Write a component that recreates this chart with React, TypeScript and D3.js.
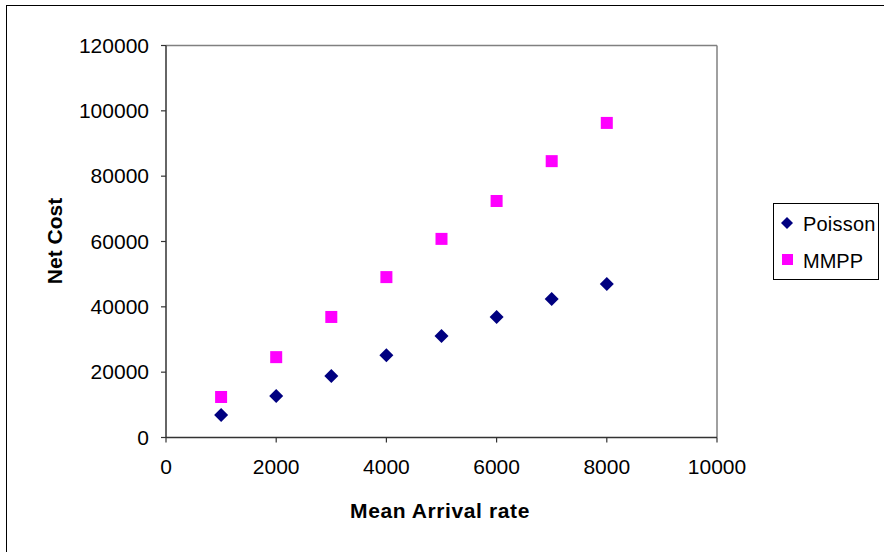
import React from "react";
import * as d3 from "d3";

const xValues = [1000, 2000, 3000, 4000, 5000, 6000, 7000, 8000];
const poisson = [6900, 12700, 18800, 25200, 31100, 36900, 42400, 47000];
const mmpp = [12400, 24600, 36900, 49100, 60800, 72400, 84600, 96300];
const xTicks = [0, 2000, 4000, 6000, 8000, 10000];
const yTicks = [0, 20000, 40000, 60000, 80000, 100000, 120000];
const seriesNames = ["Poisson", "MMPP"];

export default function App() {
  const W = 884, H = 552;
  const x = d3.scaleLinear().domain([0, 10000]).range([166, 717]);
  const y = d3.scaleLinear().domain([0, 120000]).range([437.5, 45.5]);
  const font = "'Liberation Sans', Arial, sans-serif";
  const dpath = (cx: number, cy: number, r: number) =>
    `M${cx},${cy - r}L${cx + r},${cy}L${cx},${cy + r}L${cx - r},${cy}Z`;
  return (
    <svg width={W} height={H} style={{ position: "absolute", left: 0, top: 0 }}>
      <rect x={0} y={0} width={W} height={H} fill="#fff" />
      <rect x={6.5} y={5.5} width={W + 10} height={H + 10} fill="none" stroke="#000" strokeWidth={1} />
      {/* plot frame */}
      <line x1={x(0)} x2={x(10000)} y1={y(120000)} y2={y(120000)} stroke="#808080" strokeWidth={1.5} />
      <line x1={x(10000)} x2={x(10000)} y1={y(120000)} y2={y(0)} stroke="#808080" strokeWidth={1.5} />
      <line x1={x(0)} x2={x(0)} y1={y(120000)} y2={y(0)} stroke="#333" strokeWidth={1.5} />
      <line x1={x(0)} x2={x(10000)} y1={y(0)} y2={y(0)} stroke="#333" strokeWidth={1.5} />
      {yTicks.map((t) => (
        <g key={"y" + t}>
          <line x1={x(0) - 5} x2={x(0)} y1={y(t)} y2={y(t)} stroke="#333" strokeWidth={1.2} />
          <text x={149} y={y(t) + 7} textAnchor="end" fontFamily={font} fontSize={21}>{t}</text>
        </g>
      ))}
      {xTicks.map((t) => (
        <g key={"x" + t}>
          <line x1={x(t)} x2={x(t)} y1={y(0)} y2={y(0) + 5} stroke="#333" strokeWidth={1.2} />
          <text x={x(t)} y={474} textAnchor="middle" fontFamily={font} fontSize={21}>{t}</text>
        </g>
      ))}
      {mmpp.map((v, i) => (
        <rect key={"m" + i} x={x(xValues[i]) - 6} y={y(v) - 6} width={12} height={12} fill="#FF00FF" />
      ))}
      {poisson.map((v, i) => (
        <path key={"p" + i} d={dpath(x(xValues[i]), y(v), 7)} fill="#000080" />
      ))}
      <text x={440} y={518} textAnchor="middle" fontFamily={font} fontSize={21} fontWeight="bold" letterSpacing={0.6}>Mean Arrival rate</text>
      <text transform={`translate(62,241) rotate(-90)`} textAnchor="middle" fontFamily={font} fontSize={21} fontWeight="bold">Net Cost</text>
      {/* legend */}
      <rect x={773.5} y={203.5} width={105} height={76} fill="#fff" stroke="#000" strokeWidth={1} />
      <path d={dpath(787, 223, 6)} fill="#000080" />
      <text x={803} y={231} fontFamily={font} fontSize={20} letterSpacing={0.2}>{seriesNames[0]}</text>
      <rect x={782} y={254} width={11} height={11} fill="#FF00FF" />
      <text x={803} y={268} fontFamily={font} fontSize={20} letterSpacing={0}>{seriesNames[1]}</text>
    </svg>
  );
}
